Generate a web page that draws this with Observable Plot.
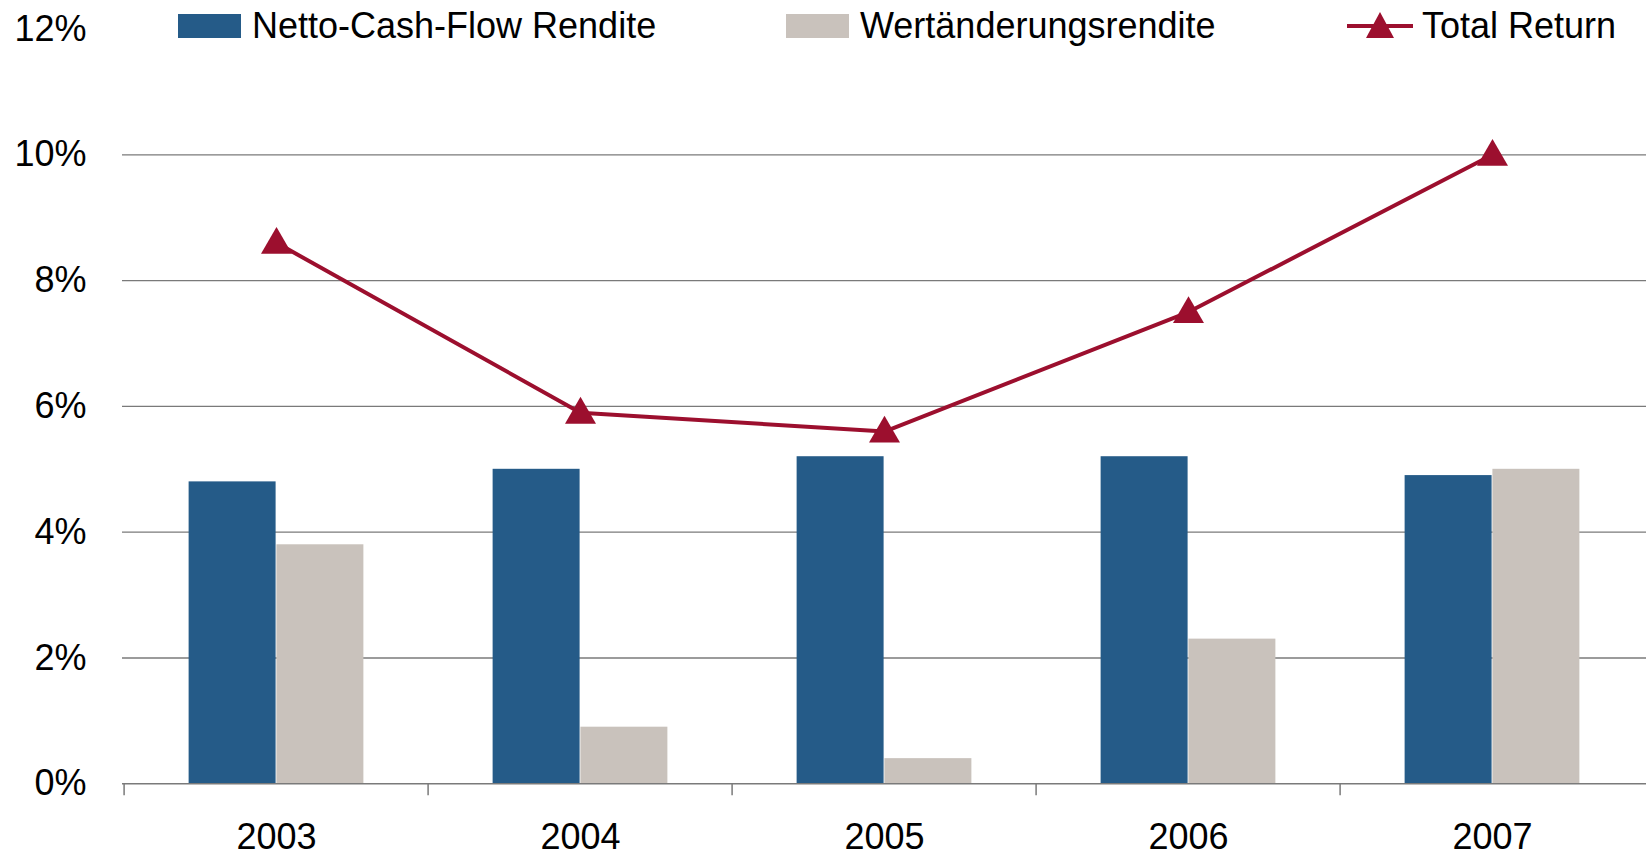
<!DOCTYPE html>
<html>
<head>
<meta charset="utf-8">
<script src="https://cdn.jsdelivr.net/npm/d3@7"></script>
<script src="https://cdn.jsdelivr.net/npm/@observablehq/plot@0.6"></script>
<style>
  html, body { margin: 0; padding: 0; background: #fff; }
  body { width: 1646px; height: 858px; overflow: hidden; position: relative; font-family: "Liberation Sans", Arial, sans-serif; }
  #legend { position: absolute; left: 0; top: 0; width: 1646px; height: 50px; pointer-events: none; }
  .item { position: absolute; top: 8px; height: 36px; display: flex; align-items: center; font-size: 36px; color: #000; white-space: nowrap; }
  .sw { display: inline-block; width: 63px; height: 24px; margin-right: 11px; }
  #chart svg { display: block; }
</style>
</head>
<body>
<div id="chart"></div>
<div id="legend"></div>
<script>
const years = ["2003", "2004", "2005", "2006", "2007"];
const netto = [4.8, 5.0, 5.2, 5.2, 4.9];
const wert = [3.8, 0.9, 0.4, 2.3, 5.0];
const total = [8.6, 5.9, 5.6, 7.5, 10.0];
const yTicks = [0, 2, 4, 6, 8, 10, 12];
const gridTicks = [2, 4, 6, 8, 10];
const seriesNames = ["Netto-Cash-Flow Rendite", "Wertänderungsrendite", "Total Return"];
const colors = ["#255B88", "#C9C2BC", "#9C0F2E"];

const data = years.map((y, i) => ({year: y, netto: netto[i], wert: wert[i], total: total[i]}));

const W = 1646, H = 858;
const mL = 122, mR = 0, mT = 28.5, mB = 74.7;
const bw = (W - mL - mR) / years.length;
const outer = bw * 0.212;

const chart = Plot.plot({
  width: W,
  height: H,
  marginLeft: mL,
  marginRight: mR,
  marginTop: mT,
  marginBottom: mB,
  style: {fontFamily: "'Liberation Sans', Arial, sans-serif", fontSize: "36px", color: "#000", background: "#fff"},
  x: {domain: years, padding: 0, label: null},
  y: {domain: [0, 12], label: null},
  marks: [
    Plot.ruleY(gridTicks, {stroke: "#7a7a7a", strokeWidth: 1.3}),
    Plot.barY(data, {x: "year", y: "netto", fill: colors[0], insetLeft: outer, insetRight: bw / 2}),
    Plot.barY(data, {x: "year", y: "wert", fill: colors[1], insetLeft: bw / 2, insetRight: outer}),
    Plot.ruleY([0], {stroke: "#7a7a7a", strokeWidth: 1.5}),
    Plot.ruleX(years, {x: d => d, y1: 0, y2: -0.19, dx: -bw / 2, stroke: "#7a7a7a", strokeWidth: 1.5}),
    Plot.line(data, {x: "year", y: "total", stroke: colors[2], strokeWidth: 4}),
    Plot.dot(data, {x: "year", y: "total", symbol: "triangle", r: 11.5, fill: colors[2], stroke: "none", dy: 2}),
    Plot.axisY({ticks: yTicks, tickFormat: d => d + "%", tickSize: 0, tickPadding: 36, fontSize: 36, fill: "#000"}),
    Plot.axisX({tickSize: 0, tickPadding: 40, fontSize: 36, fill: "#000"})
  ]
});
document.getElementById("chart").appendChild(chart);

const legend = document.getElementById("legend");
const items = [
  {left: 178, type: "rect", color: colors[0], label: seriesNames[0]},
  {left: 786, type: "rect", color: colors[1], label: seriesNames[1]},
  {left: 1347, type: "line", color: colors[2], label: seriesNames[2]}
];
items.forEach(it => {
  const div = document.createElement("div");
  div.className = "item";
  div.style.left = it.left + "px";
  if (it.type === "rect") {
    const s = document.createElement("span");
    s.className = "sw";
    s.style.background = it.color;
    div.appendChild(s);
  } else {
    const ns = "http://www.w3.org/2000/svg";
    const svg = document.createElementNS(ns, "svg");
    svg.setAttribute("width", 66);
    svg.setAttribute("height", 36);
    svg.style.marginRight = "9px";
    const l = document.createElementNS(ns, "line");
    l.setAttribute("x1", 0); l.setAttribute("x2", 66);
    l.setAttribute("y1", 18); l.setAttribute("y2", 18);
    l.setAttribute("stroke", it.color); l.setAttribute("stroke-width", 4);
    svg.appendChild(l);
    const p = document.createElementNS(ns, "path");
    p.setAttribute("d", "M33,4 L47,30 L19,30 Z");
    p.setAttribute("fill", it.color);
    svg.appendChild(p);
    div.appendChild(svg);
  }
  const t = document.createElement("span");
  t.textContent = it.label;
  div.appendChild(t);
  legend.appendChild(div);
});
</script>
</body>
</html>
